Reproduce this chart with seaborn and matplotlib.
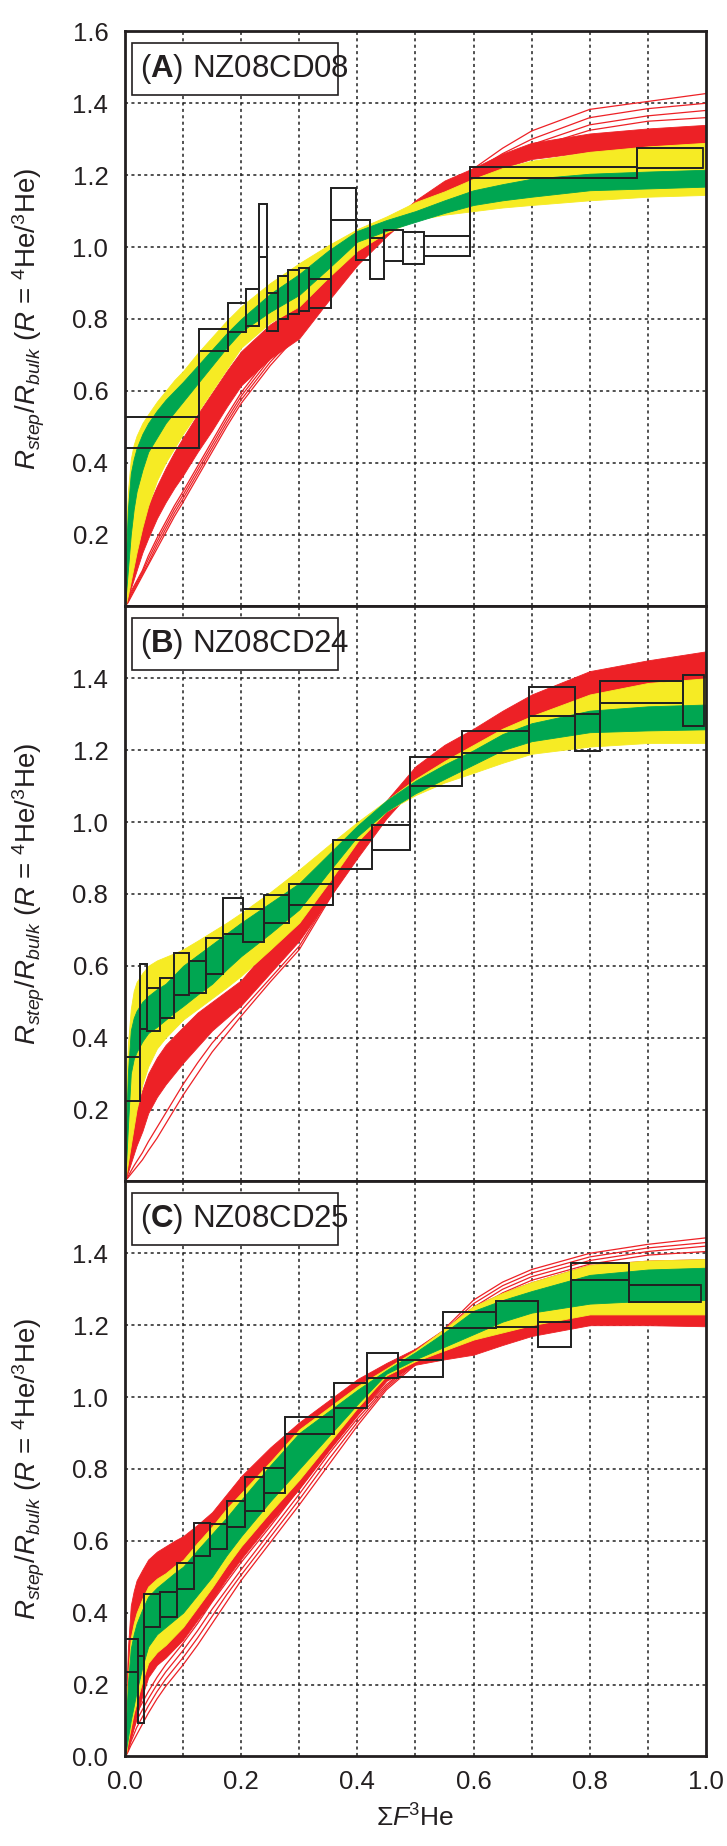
import numpy as np
import pandas as pd
import matplotlib
matplotlib.use("Agg")
import matplotlib.pyplot as plt
import seaborn as sns
from matplotlib.patches import Rectangle

sns.set_theme(style="white")
plt.rcParams['font.family'] = ['Liberation Sans', 'DejaVu Sans']
plt.rcParams['mathtext.fontset'] = 'custom'
plt.rcParams['mathtext.rm'] = 'Liberation Sans'
plt.rcParams['mathtext.it'] = 'Liberation Sans:italic'
plt.rcParams['mathtext.bf'] = 'Liberation Sans:bold'

RED = "#ED2126"
YELLOW = "#F6EB24"
GREEN = "#00A651"
INK = "#231F20"

# x positions (Sigma F 3He) at which the model-curve envelopes were read
X = [0, 0.002, 0.005, 0.01, 0.015, 0.02, 0.03, 0.04, 0.055, 0.07, 0.085, 0.1, 0.125, 0.15, 0.175,
     0.2, 0.25, 0.3, 0.35, 0.4, 0.45, 0.5, 0.55, 0.6, 0.65, 0.7, 0.8, 0.9, 1.0]

# ---------------- Panel A: NZ08CD08 ----------------
A_yellow_hi = [0, 0.20, 0.32, 0.41, 0.45, 0.475, 0.51, 0.535, 0.57, 0.60, 0.63, 0.655, 0.705, 0.75, 0.795,
               0.835, 0.90, 0.955, 1.005, 1.05, 1.085, 1.125, 1.155, 1.19, 1.22, 1.24, 1.265, 1.28, 1.29]
A_yellow_lo = [0, 0.01, 0.03, 0.07, 0.11, 0.15, 0.22, 0.28, 0.35, 0.40, 0.44, 0.48, 0.54, 0.60, 0.66,
               0.72, 0.79, 0.835, 0.915, 0.99, 1.04, 1.075, 1.09, 1.10, 1.11, 1.117, 1.13, 1.14, 1.145]
A_green_hi = [0, 0.15, 0.27, 0.37, 0.41, 0.44, 0.48, 0.51, 0.545, 0.575, 0.60, 0.625, 0.67, 0.715, 0.76,
              0.80, 0.87, 0.925, 0.99, 1.045, 1.075, 1.10, 1.13, 1.158, 1.175, 1.19, 1.204, 1.21, 1.215]
A_green_lo = [0, 0.04, 0.10, 0.20, 0.27, 0.32, 0.38, 0.43, 0.47, 0.51, 0.54, 0.57, 0.62, 0.67, 0.72,
              0.765, 0.82, 0.867, 0.94, 1.015, 1.045, 1.07, 1.095, 1.117, 1.13, 1.14, 1.158, 1.163, 1.168]
A_red_hi = [0, 0.02, 0.05, 0.09, 0.13, 0.17, 0.23, 0.28, 0.335, 0.385, 0.43, 0.47, 0.535, 0.595, 0.655,
            0.71, 0.785, 0.838, 0.92, 0.996, 1.06, 1.13, 1.185, 1.22, 1.26, 1.29, 1.316, 1.33, 1.34]
A_red_lo = [0, 0.01, 0.025, 0.05, 0.075, 0.10, 0.15, 0.19, 0.245, 0.29, 0.33, 0.365, 0.43, 0.49, 0.555,
            0.615, 0.69, 0.746, 0.85, 0.95, 1.03, 1.10, 1.15, 1.186, 1.22, 1.245, 1.265, 1.275, 1.27]
A_red_line1 = [0, 0.004, 0.01, 0.025, 0.04, 0.055, 0.085, 0.115, 0.16, 0.205, 0.25, 0.29, 0.36, 0.43, 0.50,
               0.565, 0.67, 0.76, 0.86, 0.95, 1.035, 1.10, 1.16, 1.218, 1.275, 1.323, 1.383, 1.405, 1.427]
A_red_line2 = [0, 0.005, 0.012, 0.03, 0.045, 0.06, 0.09, 0.12, 0.17, 0.215, 0.26, 0.30, 0.37, 0.44, 0.51,
               0.575, 0.68, 0.765, 0.865, 0.955, 1.035, 1.10, 1.155, 1.21, 1.26, 1.30, 1.36, 1.385, 1.40]
A_red_line3 = [0, 0.006, 0.015, 0.035, 0.05, 0.065, 0.095, 0.13, 0.18, 0.225, 0.27, 0.31, 0.38, 0.45, 0.52,
               0.585, 0.69, 0.77, 0.87, 0.96, 1.04, 1.10, 1.15, 1.205, 1.25, 1.285, 1.34, 1.365, 1.38]
A_red_line4 = [0, 0.007, 0.017, 0.04, 0.055, 0.07, 0.10, 0.14, 0.19, 0.235, 0.28, 0.32, 0.39, 0.46, 0.53,
               0.595, 0.70, 0.78, 0.875, 0.965, 1.04, 1.10, 1.15, 1.20, 1.24, 1.275, 1.325, 1.35, 1.36]
A_step_x0 = [0.0, 0.128, 0.177, 0.209, 0.230, 0.244, 0.263, 0.281, 0.300, 0.317, 0.355, 0.398, 0.422, 0.446, 0.479, 0.515, 0.594, 0.882]
A_step_x1 = [0.128, 0.177, 0.209, 0.230, 0.244, 0.263, 0.281, 0.300, 0.317, 0.355, 0.398, 0.422, 0.446, 0.479, 0.515, 0.594, 0.882, 0.995]
A_step_lo = [0.442, 0.710, 0.764, 0.781, 0.972, 0.767, 0.800, 0.814, 0.822, 0.829, 1.075, 0.965, 0.910, 0.962, 0.954, 0.975, 1.191, 1.221]
A_step_hi = [0.528, 0.772, 0.845, 0.883, 1.121, 0.871, 0.920, 0.935, 0.943, 0.910, 1.165, 1.075, 1.025, 1.048, 1.041, 1.031, 1.223, 1.276]

# ---------------- Panel B: NZ08CD24 ----------------
B_yellow_hi = [0, 0.25, 0.38, 0.48, 0.53, 0.555, 0.58, 0.60, 0.615, 0.625, 0.635, 0.646, 0.67, 0.695, 0.72,
               0.747, 0.805, 0.868, 0.935, 1.00, 1.06, 1.12, 1.17, 1.215, 1.26, 1.295, 1.355, 1.387, 1.40]
B_yellow_lo = [0, 0.02, 0.05, 0.10, 0.15, 0.20, 0.27, 0.32, 0.37, 0.40, 0.425, 0.45, 0.48, 0.51, 0.54,
               0.572, 0.645, 0.72, 0.83, 0.945, 1.03, 1.075, 1.11, 1.137, 1.165, 1.19, 1.21, 1.22, 1.22]
B_green_hi = [0, 0.15, 0.30, 0.42, 0.455, 0.475, 0.50, 0.516, 0.535, 0.55, 0.575, 0.60, 0.63, 0.66, 0.69,
              0.72, 0.775, 0.83, 0.91, 0.99, 1.06, 1.115, 1.16, 1.20, 1.245, 1.275, 1.31, 1.322, 1.327]
B_green_lo = [0, 0.05, 0.15, 0.30, 0.34, 0.36, 0.39, 0.413, 0.43, 0.45, 0.47, 0.488, 0.52, 0.55, 0.59,
              0.627, 0.69, 0.757, 0.86, 0.96, 1.03, 1.08, 1.12, 1.16, 1.20, 1.225, 1.25, 1.255, 1.258]
B_red_hi = [0, 0.04, 0.08, 0.13, 0.17, 0.20, 0.255, 0.30, 0.345, 0.38, 0.405, 0.43, 0.47, 0.50, 0.53,
            0.56, 0.655, 0.75, 0.845, 0.95, 1.06, 1.155, 1.215, 1.26, 1.31, 1.355, 1.42, 1.45, 1.475]
B_red_lo = [0, 0.01, 0.025, 0.05, 0.075, 0.10, 0.14, 0.19, 0.235, 0.27, 0.30, 0.33, 0.375, 0.42, 0.455,
            0.49, 0.58, 0.67, 0.785, 0.90, 1.01, 1.10, 1.15, 1.192, 1.245, 1.295, 1.341, 1.378, 1.40]
B_red_line1 = [0, 0.005, 0.01, 0.02, 0.03, 0.04, 0.06, 0.085, 0.12, 0.16, 0.20, 0.24, 0.30, 0.36, 0.41,
               0.46, 0.555, 0.645, 0.78, 0.915, 1.03, 1.125, 1.20, 1.25, 1.30, 1.34, 1.40, 1.44, 1.46]
B_red_line2 = [0, 0.006, 0.013, 0.028, 0.042, 0.055, 0.08, 0.11, 0.15, 0.19, 0.23, 0.27, 0.33, 0.385, 0.43,
               0.475, 0.565, 0.655, 0.785, 0.915, 1.03, 1.125, 1.195, 1.24, 1.29, 1.33, 1.39, 1.43, 1.45]
B_step_x0 = [0.0, 0.026, 0.038, 0.060, 0.085, 0.111, 0.139, 0.168, 0.203, 0.239, 0.283, 0.358, 0.426, 0.490, 0.580, 0.696, 0.775, 0.818, 0.960]
B_step_x1 = [0.026, 0.038, 0.060, 0.085, 0.111, 0.139, 0.168, 0.203, 0.239, 0.283, 0.358, 0.426, 0.490, 0.580, 0.696, 0.775, 0.818, 0.960, 0.996]
B_step_lo = [0.225, 0.423, 0.418, 0.455, 0.518, 0.524, 0.577, 0.689, 0.667, 0.719, 0.768, 0.870, 0.922, 1.100, 1.192, 1.295, 1.198, 1.330, 1.268]
B_step_hi = [0.346, 0.604, 0.539, 0.566, 0.637, 0.613, 0.676, 0.790, 0.758, 0.798, 0.827, 0.950, 0.992, 1.182, 1.252, 1.375, 1.300, 1.392, 1.408]

# ---------------- Panel C: NZ08CD25 ----------------
C_red_hi = [0, 0.15, 0.30, 0.42, 0.46, 0.49, 0.52, 0.548, 0.57, 0.585, 0.60, 0.613, 0.645, 0.68, 0.73,
            0.78, 0.86, 0.93, 0.99, 1.05, 1.095, 1.135, 1.19, 1.253, 1.29, 1.32, 1.368, 1.38, 1.384]
C_red_lo = [0, 0.005, 0.02, 0.05, 0.08, 0.11, 0.17, 0.22, 0.255, 0.275, 0.30, 0.325, 0.38, 0.435, 0.495,
            0.55, 0.65, 0.745, 0.85, 0.95, 1.045, 1.09, 1.105, 1.118, 1.145, 1.17, 1.20, 1.20, 1.197]
C_red_line1 = [0, 0.005, 0.012, 0.03, 0.045, 0.06, 0.09, 0.12, 0.16, 0.195, 0.225, 0.255, 0.31, 0.37, 0.43,
               0.49, 0.595, 0.70, 0.81, 0.92, 1.02, 1.09, 1.19, 1.27, 1.32, 1.355, 1.40, 1.425, 1.443]
C_red_line2 = [0, 0.007, 0.018, 0.04, 0.06, 0.08, 0.11, 0.14, 0.18, 0.215, 0.245, 0.275, 0.33, 0.39, 0.45,
               0.505, 0.61, 0.715, 0.825, 0.93, 1.025, 1.095, 1.185, 1.26, 1.31, 1.345, 1.39, 1.415, 1.43]
C_red_line3 = [0, 0.01, 0.025, 0.05, 0.075, 0.10, 0.13, 0.16, 0.20, 0.235, 0.265, 0.295, 0.35, 0.41, 0.465,
               0.52, 0.625, 0.73, 0.84, 0.94, 1.03, 1.10, 1.18, 1.25, 1.30, 1.335, 1.38, 1.405, 1.42]
C_red_line4 = [0, 0.012, 0.03, 0.06, 0.09, 0.12, 0.15, 0.18, 0.22, 0.255, 0.285, 0.315, 0.37, 0.43, 0.485,
               0.54, 0.64, 0.745, 0.85, 0.95, 1.035, 1.10, 1.175, 1.24, 1.29, 1.325, 1.37, 1.395, 1.405]
C_yellow_hi = [0, 0.12, 0.22, 0.33, 0.37, 0.40, 0.44, 0.473, 0.495, 0.51, 0.53, 0.547, 0.595, 0.64, 0.69,
               0.733, 0.82, 0.91, 0.97, 1.03, 1.08, 1.13, 1.19, 1.253, 1.29, 1.32, 1.368, 1.38, 1.384]
C_yellow_lo = [0, 0.01, 0.04, 0.08, 0.12, 0.15, 0.21, 0.26, 0.29, 0.31, 0.335, 0.36, 0.415, 0.47, 0.53,
               0.585, 0.68, 0.77, 0.87, 0.97, 1.06, 1.10, 1.13, 1.16, 1.18, 1.20, 1.23, 1.23, 1.23]
C_green_hi = [0, 0.10, 0.20, 0.30, 0.34, 0.37, 0.41, 0.445, 0.47, 0.49, 0.51, 0.528, 0.575, 0.62, 0.665,
              0.714, 0.81, 0.90, 0.96, 1.02, 1.075, 1.125, 1.18, 1.24, 1.27, 1.295, 1.34, 1.355, 1.36]
C_green_lo = [0, 0.02, 0.05, 0.10, 0.14, 0.18, 0.25, 0.306, 0.34, 0.36, 0.38, 0.40, 0.45, 0.50, 0.56,
              0.613, 0.71, 0.80, 0.89, 0.98, 1.065, 1.105, 1.14, 1.175, 1.21, 1.235, 1.26, 1.268, 1.27]
C_step_x0 = [0.0, 0.023, 0.032, 0.061, 0.090, 0.118, 0.147, 0.176, 0.207, 0.239, 0.276, 0.359, 0.417, 0.470, 0.547, 0.638, 0.711, 0.767, 0.867]
C_step_x1 = [0.023, 0.032, 0.061, 0.090, 0.118, 0.147, 0.176, 0.207, 0.239, 0.276, 0.359, 0.417, 0.470, 0.547, 0.638, 0.711, 0.767, 0.867, 0.992]
C_step_lo = [0.234, 0.092, 0.360, 0.387, 0.467, 0.557, 0.577, 0.639, 0.683, 0.732, 0.898, 0.969, 1.054, 1.057, 1.191, 1.196, 1.139, 1.325, 1.265]
C_step_hi = [0.328, 0.280, 0.453, 0.458, 0.537, 0.650, 0.647, 0.710, 0.777, 0.802, 0.945, 1.040, 1.124, 1.102, 1.238, 1.266, 1.209, 1.372, 1.312]

panel_labels = ["A", "B", "C"]
sample_names = ["NZ08CD08", "NZ08CD24", "NZ08CD25"]
y_ticks = [[0.2, 0.4, 0.6, 0.8, 1.0, 1.2, 1.4, 1.6],
           [0.2, 0.4, 0.6, 0.8, 1.0, 1.2, 1.4],
           [0.0, 0.2, 0.4, 0.6, 0.8, 1.0, 1.2, 1.4]]
x_ticks = [0.0, 0.2, 0.4, 0.6, 0.8, 1.0]

panels = [
    dict(bands=[(A_red_lo, A_red_hi, RED), (A_yellow_lo, A_yellow_hi, YELLOW), (A_green_lo, A_green_hi, GREEN)],
         lines=[A_red_line1, A_red_line2, A_red_line3, A_red_line4],
         steps=(A_step_x0, A_step_x1, A_step_lo, A_step_hi)),
    dict(bands=[(B_red_lo, B_red_hi, RED), (B_yellow_lo, B_yellow_hi, YELLOW), (B_green_lo, B_green_hi, GREEN)],
         lines=[B_red_line1, B_red_line2],
         steps=(B_step_x0, B_step_x1, B_step_lo, B_step_hi)),
    dict(bands=[(C_red_lo, C_red_hi, RED), (C_yellow_lo, C_yellow_hi, YELLOW), (C_green_lo, C_green_hi, GREEN)],
         lines=[C_red_line1, C_red_line2, C_red_line3, C_red_line4],
         steps=(C_step_x0, C_step_x1, C_step_lo, C_step_hi)),
]

fig = plt.figure(figsize=(7.27, 18.46), dpi=100)
H = 0.3115
bottoms = [0.0485 + 2 * H, 0.0485 + H, 0.0485]
axes = [fig.add_axes([0.1719, b, 0.7992, H]) for b in bottoms]

BOX = "#222222"
for i, (ax, p) in enumerate(zip(axes, panels)):
    ax.set_xlim(0, 1.0)
    ax.set_ylim(0, 1.6)
    z = 2
    for lo, hi, col in p["bands"]:
        ax.fill_between(X, lo, hi, color=col, lw=0.6, ec=col, zorder=z)
        z += 0.1
        if col == RED:
            for ln in p["lines"]:
                df = pd.DataFrame({"x": X, "y": ln})
                sns.lineplot(data=df, x="x", y="y", ax=ax, color=RED, lw=0.9,
                             estimator=None, sort=False, legend=False, zorder=z)
    # step boxes (each step's range), joined as a stepped outline
    x0s, x1s, los, his = p["steps"]
    for a, b, lo, hi in zip(x0s, x1s, los, his):
        ax.add_patch(Rectangle((a, lo), b - a, hi - lo, fill=False, ec=BOX, lw=1.3, zorder=6))
    edges = list(x0s) + [x1s[-1]]
    ax.stairs(his, edges, baseline=None, color=BOX, lw=1.3, zorder=6)
    ax.stairs(los, edges, baseline=None, color=BOX, lw=1.3, zorder=6)

    # dotted grid
    for gx in np.arange(0.1, 0.95, 0.1):
        ax.axvline(gx, color="#222222", lw=1.1, ls=(0, (2, 2.2)), zorder=1)
    for gy in np.arange(0.2, 1.45, 0.2):
        ax.axhline(gy, color="#222222", lw=1.1, ls=(0, (2, 2.2)), zorder=1)

    ax.set_yticks(y_ticks[i])
    ax.set_yticklabels([f"{t:.1f}" for t in y_ticks[i]])
    ax.set_xticks(x_ticks)
    if i < 2:
        ax.set_xticklabels([])
        ax.set_xlabel("")
    else:
        ax.set_xticklabels([f"{t:.1f}" for t in x_ticks])
        ax.set_xlabel(r"Σ$F$$^{3}$He", fontsize=19, labelpad=7, color=INK)
    ax.tick_params(axis="both", length=0, labelsize=18.5, colors=INK)
    ax.tick_params(axis="y", pad=12)
    ax.tick_params(axis="x", pad=10)
    ax.set_ylabel(r"$R_{step}/R_{bulk}$ ($R$ = $^{4}$He/$^{3}$He)", fontsize=20, color=INK)
    ax.yaxis.set_label_coords(-0.135, 0.5)
    for s in ax.spines.values():
        s.set_visible(True)
        s.set_color(INK)
        s.set_linewidth(2.0)
    ax.grid(False)

    # panel label box
    ax.add_patch(Rectangle((0.012, 0.889), 0.355, 0.0904, transform=ax.transAxes,
                           fill=True, fc="white", ec=INK, lw=1.2, zorder=8))
    ax.text(0.026, 0.934, r"($\mathbf{%s}$) %s" % (panel_labels[i], sample_names[i]),
            transform=ax.transAxes, fontsize=22.5, va="center", ha="left",
            color=INK, zorder=9)

fig.savefig("out.png", dpi=100)
